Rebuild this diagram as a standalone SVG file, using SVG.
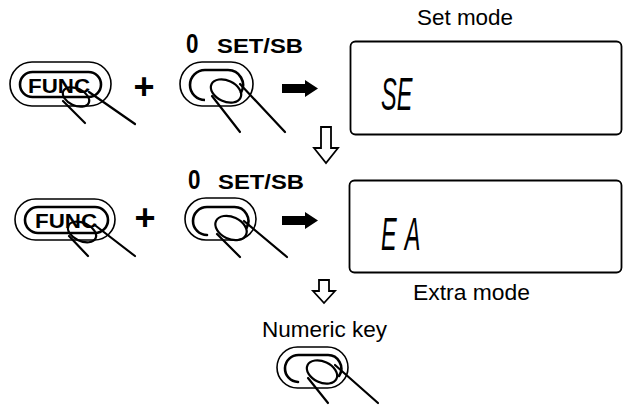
<svg xmlns="http://www.w3.org/2000/svg" width="623" height="406" viewBox="0 0 623 406">
  <style>
    .pill-out { fill: none; stroke: #000; stroke-width: 1.6; }
    .pill-in { fill: none; stroke: #000; stroke-width: 2.6; stroke-linecap: round; }
    .finger { fill: none; stroke: #000; stroke-width: 2.2; stroke-linecap: round; }
    .lcd { fill: none; stroke: #000; stroke-width: 1.8; }
    .lbl { font-family: "Liberation Sans", Arial, sans-serif; font-size: 22.5px; fill: #000; }
    .key-txt { font-family: "Liberation Sans", Arial, sans-serif; font-weight: bold; fill: #000; }
    .seg { font-family: "Liberation Sans", Arial, sans-serif; font-style: italic; font-size: 47px; fill: #000; }
    .solid-arrow { fill: #000; stroke: none; }
    .hollow-arrow { fill: #fff; stroke: #000; stroke-width: 1.8; stroke-linejoin: miter; }
  </style>

  <rect width="623" height="406" fill="#fff"/>

  <!-- Row 1: FUNC key -->
  <g id="func-key-1">
    <rect class="pill-out" x="10" y="62" width="101" height="44" rx="22"/>
    <rect class="pill-in" x="20" y="72" width="81" height="25" rx="12.5"/>
    <text class="key-txt" x="28" y="93" font-size="21" textLength="62" lengthAdjust="spacingAndGlyphs">FUNC</text>
    <ellipse class="finger" cx="76" cy="97" rx="14" ry="8.5" transform="rotate(25 76 97)"/>
    <line class="finger" x1="63" y1="101" x2="85" y2="123"/>
    <line class="finger" x1="89" y1="92" x2="135" y2="124"/>
  </g>

  <!-- Row 1: 0 SET/SB key -->
  <g id="set-key-1">
    <text class="key-txt" x="0" y="0" font-size="28" transform="translate(186 53) scale(0.8 1)">0</text>
    <text class="key-txt" x="217" y="53" font-size="21" textLength="86" lengthAdjust="spacingAndGlyphs">SET/SB</text>
    <rect class="pill-out" x="180" y="62" width="73" height="44" rx="22"/>
    <path class="pill-in" d="M203 100 L205 100 A15 15 0 0 1 205 70 L228 70 A15 15 0 0 1 241 92.5"/>
    <ellipse class="finger" cx="226" cy="91" rx="16" ry="10.5" transform="rotate(25 226 91)"/>
    <line class="finger" x1="212" y1="96" x2="240" y2="132"/>
    <line class="finger" x1="240" y1="84" x2="285" y2="132"/>
  </g>

  <!-- Row 1: display showing set mode -->
  <g id="display-set">
    <text class="lbl" x="417" y="25" textLength="96" lengthAdjust="spacingAndGlyphs">Set mode</text>
    <rect class="lcd" x="350.5" y="41.5" width="271" height="93" rx="5"/>
    <text class="seg" x="0" y="0" transform="translate(381 110) scale(0.5 1)">SE</text>
  </g>

  <!-- Row 2: FUNC key -->
  <g id="func-key-2">
    <rect class="pill-out" x="15" y="199" width="100" height="41" rx="20.5"/>
    <rect class="pill-in" x="25" y="207" width="83" height="26" rx="13"/>
    <text class="key-txt" x="35" y="228" font-size="21" textLength="62" lengthAdjust="spacingAndGlyphs">FUNC</text>
    <ellipse class="finger" cx="82" cy="232" rx="15" ry="9" transform="rotate(25 82 232)"/>
    <line class="finger" x1="69" y1="236" x2="88" y2="256"/>
    <line class="finger" x1="96" y1="226" x2="135" y2="256"/>
  </g>

  <!-- Row 2: 0 SET/SB key -->
  <g id="set-key-2">
    <text class="key-txt" x="0" y="0" font-size="28" transform="translate(188 189) scale(0.8 1)">0</text>
    <text class="key-txt" x="218" y="189" font-size="21" textLength="86" lengthAdjust="spacingAndGlyphs">SET/SB</text>
    <rect class="pill-out" x="185" y="198" width="71" height="42" rx="21"/>
    <path class="pill-in" d="M207 235 L207 235 A14 14 0 0 1 207 207 L234 207 A14 14 0 0 1 246.5 228"/>
    <ellipse class="finger" cx="231" cy="228" rx="16.5" ry="11" transform="rotate(25 231 228)"/>
    <line class="finger" x1="217" y1="234" x2="240" y2="257"/>
    <line class="finger" x1="244" y1="221" x2="287" y2="257"/>
  </g>

  <!-- Row 2: display showing extra mode -->
  <g id="display-extra">
    <rect class="lcd" x="349.5" y="180.5" width="272" height="92" rx="5"/>
    <text class="seg" x="0" y="0" letter-spacing="16" transform="translate(381 250) scale(0.5 1)">EA</text>
    <text class="lbl" x="413" y="300" textLength="117" lengthAdjust="spacingAndGlyphs">Extra mode</text>
  </g>

  <!-- Row 3: numeric key -->
  <g id="numeric-key">
    <text class="lbl" x="262" y="337" textLength="125" lengthAdjust="spacingAndGlyphs">Numeric key</text>
    <rect class="pill-out" x="277" y="347" width="71" height="41" rx="20.5"/>
    <path class="pill-in" d="M298 382 A13.5 13.5 0 0 1 299 355 L327 355 A13.5 13.5 0 0 1 339 376"/>
    <ellipse class="finger" cx="322" cy="372" rx="16" ry="10.5" transform="rotate(25 322 372)"/>
    <line class="finger" x1="308" y1="378" x2="328" y2="403"/>
    <line class="finger" x1="335" y1="365" x2="378" y2="403"/>
  </g>

  <!-- plus signs between keys -->
  <g id="operators">
    <text class="key-txt" x="144" y="99" font-size="36" text-anchor="middle">+</text>
    <text class="key-txt" x="145" y="230" font-size="36" text-anchor="middle">+</text>
  </g>

  <!-- arrows -->
  <g id="connectors">
    <polygon class="solid-arrow" points="282,84 305,84 305,80 318,88.5 305,97 305,93 282,93"/>
    <polygon class="solid-arrow" points="282,216 305,216 305,212 318,220.5 305,229 305,225 282,225"/>
    <polygon class="hollow-arrow" points="321,127 331,127 331,148 338,148 326,163 314,148 321,148"/>
    <polygon class="hollow-arrow" points="319,280 329,280 329,291 335,291 324,303 313,291 319,291"/>
  </g>
</svg>
